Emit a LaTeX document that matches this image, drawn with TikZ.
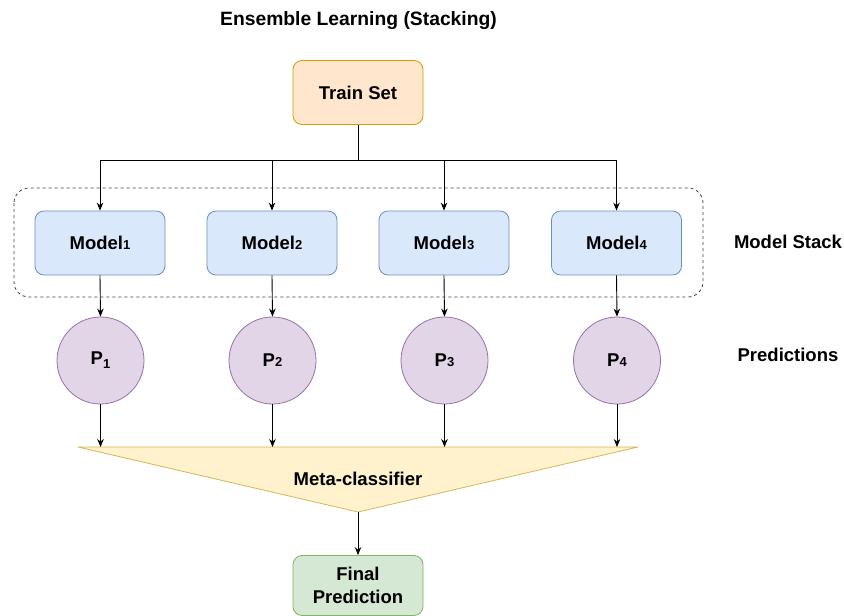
\documentclass[tikz,border=0pt]{standalone}
\usepackage{fontspec}
\setmainfont{Liberation Sans}
\usetikzlibrary{arrows.meta}
\definecolor{orfill}{HTML}{FFE6CC}\definecolor{ordraw}{HTML}{D79B00}
\definecolor{blfill}{HTML}{DAE8FC}\definecolor{bldraw}{HTML}{6C8EBF}
\definecolor{pufill}{HTML}{E1D5E7}\definecolor{pudraw}{HTML}{9673A6}
\definecolor{yefill}{HTML}{FFF2CC}\definecolor{yedraw}{HTML}{D6B656}
\definecolor{grfill}{HTML}{D5E8D4}\definecolor{grdraw}{HTML}{82B366}
\newcommand{\subsm}[1]{{\fontsize{13}{13}\selectfont #1}}
\begin{document}
\begin{tikzpicture}[x=1pt,y=-1pt,
  lbl/.style={font=\fontsize{18.5}{23}\selectfont\bfseries, align=center},
  box/.style={lbl, draw, rounded corners=9pt, minimum width=130pt, minimum height=64pt, inner sep=0pt, line width=0.8pt},
  trainbox/.style={box, fill=orfill, draw=ordraw},
  modelbox/.style={box, fill=blfill, draw=bldraw},
  finalbox/.style={box, fill=grfill, draw=grdraw, minimum height=60pt},
  pcirc/.style={lbl, circle, draw=pudraw, fill=pufill, minimum size=87pt, inner sep=0pt, line width=0.8pt},
  arr/.style={-{Stealth[length=8pt,width=6.5pt]}, line width=0.9pt},
  conn/.style={line width=0.9pt}
]
\useasboundingbox (0,0) rectangle (844,616);

\node[lbl, font=\fontsize{19.3}{23}\selectfont\bfseries] (title) at (358.5,21) {Ensemble Learning (Stacking)};

% dashed stack frame
\draw[dashed, line width=0.8pt, draw=black!75, rounded corners=15pt] (14,188) rectangle (703,297);

\node[trainbox] (train) at (358,92.5) {Train Set};

\node[modelbox] (m1) at (100,243) {Model\subsm{1}};
\node[modelbox] (m2) at (272,243) {Model\subsm{2}};
\node[modelbox] (m3) at (444,243) {Model\subsm{3}};
\node[modelbox] (m4) at (616.5,243) {Model\subsm{4}};

\node[lbl] (stacklbl) at (788,242) {Model Stack};
\node[lbl] (predlbl) at (788,355) {Predictions};

\node[pcirc] (p1) at (100.5,360.5) {P\raisebox{-4pt}{\subsm{1}}};
\node[pcirc] (p2) at (272.5,360.5) {P\subsm{2}};
\node[pcirc] (p3) at (444.5,360.5) {P\subsm{3}};
\node[pcirc] (p4) at (617,360.5) {P\subsm{4}};

% meta-classifier triangle
\coordinate (tl) at (78,447);
\coordinate (tr) at (638,447);
\coordinate (apex) at (358,512);
\coordinate (ttop) at (358,447);
\draw[fill=yefill, draw=yedraw, line width=0.8pt, line join=round] (tl) -- (tr) -- (apex) -- cycle;
\node[lbl] (meta) at (358,479) {Meta-classifier};

\node[finalbox] (final) at (358,585.5) {Final\\Prediction};

% connectors
\coordinate (split) at (358,160);
\draw[conn] (train.south) -- (split);
\foreach \m in {m1,m2,m3,m4}{
  \draw[arr] (split) -| (\m.north);
}
\draw[arr] (m1.south) -- (p1.north);
\draw[arr] (m2.south) -- (p2.north);
\draw[arr] (m3.south) -- (p3.north);
\draw[arr] (m4.south) -- (p4.north);
\foreach \p in {p1,p2,p3,p4}{
  \draw[arr] (\p.south) -- (\p.south |- ttop);
}
\draw[arr] (apex) -- (final.north);
\end{tikzpicture}
\end{document}
